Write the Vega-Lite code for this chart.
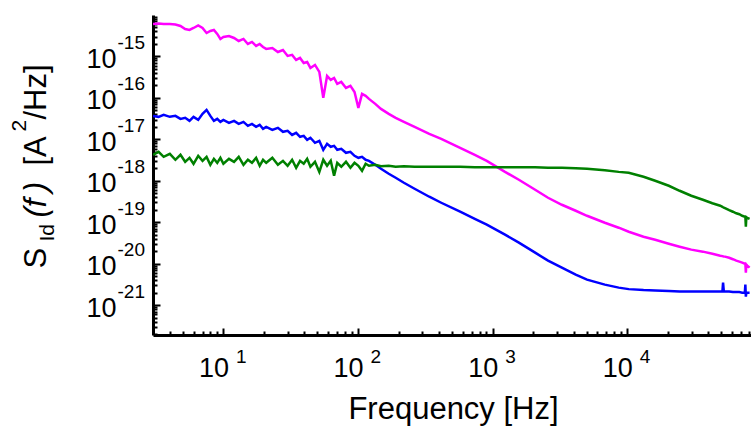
{
  "$schema": "https://vega.github.io/schema/vega-lite/v6.json",
  "width": 598,
  "height": 320,
  "autosize": {"type": "none"},
  "padding": {"left": 153, "top": 15, "right": 0, "bottom": 94},
  "background": "white",
  "config": {
    "view": {"stroke": null},
    "axis": {"labelFont": "Liberation Sans", "titleFont": "Liberation Sans", "labelColor": "black", "titleColor": "black", "grid": false, "labelOverlap": false, "labelFlush": false, "labelBound": false, "titleFontWeight": "normal", "domainColor": "black", "tickColor": "black"}
  },
  "data": {"values": [
    {"f":3,"magenta":6.07e-15,"blue":3.68e-17,"green":4.23e-18},
    {"f":3.3,"magenta":6.24e-15,"blue":3.49e-17,"green":5.00e-18},
    {"f":3.6,"magenta":6.07e-15,"blue":3.89e-17,"green":3.78e-18},
    {"f":4,"magenta":6.07e-15,"blue":3.49e-17,"green":4.47e-18},
    {"f":4.4,"magenta":5.90e-15,"blue":3.68e-17,"green":3.21e-18},
    {"f":4.8,"magenta":5.43e-15,"blue":3.12e-17,"green":4.23e-18},
    {"f":5.2,"magenta":4.60e-15,"blue":3.30e-17,"green":2.87e-18},
    {"f":5.6,"magenta":4.35e-15,"blue":2.79e-17,"green":3.58e-18},
    {"f":6,"magenta":4.86e-15,"blue":3.49e-17,"green":2.57e-18},
    {"f":6.5,"magenta":5.58e-15,"blue":2.95e-17,"green":4.01e-18},
    {"f":7,"magenta":4.86e-15,"blue":4.12e-17,"green":3.03e-18},
    {"f":7.5,"magenta":3.68e-15,"blue":5.14e-17,"green":3.78e-18},
    {"f":8,"magenta":4.12e-15,"blue":3.68e-17,"green":2.43e-18},
    {"f":8.5,"magenta":4.35e-15,"blue":2.79e-17,"green":3.39e-18},
    {"f":9,"magenta":3.49e-15,"blue":3.12e-17,"green":2.71e-18},
    {"f":9.5,"magenta":2.64e-15,"blue":2.64e-17,"green":3.58e-18},
    {"f":10,"magenta":2.95e-15,"blue":2.95e-17,"green":2.57e-18},
    {"f":11,"magenta":3.12e-15,"blue":2.50e-17,"green":3.39e-18},
    {"f":12,"magenta":2.79e-15,"blue":2.79e-17,"green":2.87e-18},
    {"f":13,"magenta":2.36e-15,"blue":2.36e-17,"green":3.78e-18},
    {"f":14.1,"magenta":2.64e-15,"blue":2.64e-17,"green":2.43e-18},
    {"f":15.2,"magenta":2.00e-15,"blue":2.12e-17,"green":3.21e-18},
    {"f":16.3,"magenta":2.24e-15,"blue":2.36e-17,"green":2.71e-18},
    {"f":17.5,"magenta":1.79e-15,"blue":2.00e-17,"green":3.58e-18},
    {"f":18.6,"magenta":2.00e-15,"blue":2.24e-17,"green":2.30e-18},
    {"f":19.7,"magenta":1.69e-15,"blue":1.79e-17,"green":3.21e-18},
    {"f":20.8,"magenta":1.52e-15,"blue":2.00e-17,"green":2.71e-18},
    {"f":23.1,"magenta":1.60e-15,"blue":1.69e-17,"green":3.58e-18},
    {"f":25.4,"magenta":1.28e-15,"blue":1.89e-17,"green":2.43e-18},
    {"f":27.7,"magenta":1.43e-15,"blue":1.52e-17,"green":3.03e-18},
    {"f":30,"magenta":1.03e-15,"blue":1.60e-17,"green":2.30e-18},
    {"f":32.4,"magenta":1.09e-15,"blue":1.28e-17,"green":3.21e-18},
    {"f":34.7,"magenta":8.24e-16,"blue":1.43e-17,"green":2.06e-18},
    {"f":37.1,"magenta":9.20e-16,"blue":1.15e-17,"green":3.03e-18},
    {"f":39.5,"magenta":6.97e-16,"blue":1.21e-17,"green":2.57e-18},
    {"f":41.9,"magenta":7.37e-16,"blue":9.73e-18,"green":3.39e-18},
    {"f":44.3,"magenta":5.28e-16,"blue":1.09e-17,"green":2.18e-18},
    {"f":47.9,"magenta":6.24e-16,"blue":8.24e-18,"green":2.87e-18},
    {"f":51.6,"magenta":4.23e-16,"blue":9.20e-18,"green":1.64e-18},
    {"f":55.2,"magenta":1.00e-16,"blue":5.58e-18,"green":3.21e-18},
    {"f":58.9,"magenta":3.39e-16,"blue":7.79e-18,"green":2.30e-18},
    {"f":62.7,"magenta":2.71e-16,"blue":6.60e-18,"green":3.03e-18},
    {"f":66.4,"magenta":3.03e-16,"blue":6.97e-18,"green":1.32e-18},
    {"f":70.1,"magenta":2.18e-16,"blue":5.58e-18,"green":2.71e-18},
    {"f":75.1,"magenta":2.43e-16,"blue":5.90e-18,"green":2.18e-18},
    {"f":81.4,"magenta":1.74e-16,"blue":4.73e-18,"green":2.87e-18},
    {"f":87.8,"magenta":1.95e-16,"blue":5.00e-18,"green":2.06e-18},
    {"f":94.2,"magenta":1.39e-16,"blue":4.01e-18,"green":2.71e-18},
    {"f":100.6,"magenta":5.74e-17,"blue":3.58e-18,"green":2.30e-18},
    {"f":107.1,"magenta":1.25e-16,"blue":3.78e-18,"green":1.74e-18},
    {"f":113.9,"magenta":1.12e-16,"blue":3.21e-18,"green":2.57e-18},
    {"f":120.6,"magenta":9.46e-17,"blue":3.03e-18,"green":2.30e-18},
    {"f":134.3,"magenta":7.17e-17,"blue":2.43e-18,"green":2.43e-18},
    {"f":148.1,"magenta":5.43e-17,"blue":1.95e-18,"green":2.24e-18},
    {"f":169.1,"magenta":4.12e-17,"blue":1.48e-18,"green":2.30e-18},
    {"f":190.4,"magenta":3.30e-17,"blue":1.18e-18,"green":2.18e-18},
    {"f":219.2,"magenta":2.64e-17,"blue":8.95e-19,"green":2.24e-18},
    {"f":263.2,"magenta":2.00e-17,"blue":6.41e-19,"green":2.18e-18},
    {"f":338.3,"magenta":1.36e-17,"blue":4.12e-19,"green":2.18e-18},
    {"f":415.1,"magenta":1.03e-17,"blue":2.95e-19,"green":2.18e-18},
    {"f":573.4,"magenta":6.24e-18,"blue":1.79e-19,"green":2.18e-18},
    {"f":736.9,"magenta":4.23e-18,"blue":1.21e-19,"green":2.12e-18},
    {"f":904.4,"magenta":3.03e-18,"blue":8.71e-20,"green":2.12e-18},
    {"f":1236,"magenta":1.64e-18,"blue":5.00e-20,"green":2.12e-18},
    {"f":1566,"magenta":1.06e-18,"blue":3.21e-20,"green":2.12e-18},
    {"f":2069,"magenta":6.07e-19,"blue":1.84e-20,"green":2.12e-18},
    {"f":2579,"magenta":3.89e-19,"blue":1.18e-20,"green":2.06e-18},
    {"f":3267,"magenta":2.64e-19,"blue":8.01e-21,"green":2.06e-18},
    {"f":4140,"magenta":1.89e-19,"blue":5.43e-21,"green":2.00e-18},
    {"f":5023,"magenta":1.43e-19,"blue":4.12e-21,"green":1.95e-18},
    {"f":6815,"magenta":9.73e-20,"blue":3.12e-21,"green":1.79e-18},
    {"f":8639,"magenta":7.37e-20,"blue":2.64e-21,"green":1.64e-18},
    {"f":10254,"magenta":5.90e-20,"blue":2.43e-21,"green":1.56e-18},
    {"f":13206,"magenta":4.47e-20,"blue":2.30e-21,"green":1.25e-18},
    {"f":16120,"magenta":3.78e-20,"blue":2.24e-21,"green":1.00e-18},
    {"f":20344,"magenta":3.03e-20,"blue":2.18e-21,"green":7.58e-19},
    {"f":24491,"magenta":2.57e-20,"blue":2.12e-21,"green":5.74e-19},
    {"f":29880,"magenta":2.18e-20,"blue":2.12e-21,"green":4.35e-19},
    {"f":36462,"magenta":1.95e-20,"blue":2.12e-21,"green":3.49e-19},
    {"f":42879,"magenta":1.74e-20,"blue":2.12e-21,"green":2.87e-19},
    {"f":49028,"magenta":1.56e-20,"blue":2.12e-21,"green":2.50e-19},
    {"f":50901,"magenta":1.52e-20,"blue":2.12e-21,"green":2.36e-19},
    {"f":51479,"magenta":1.50e-20,"blue":3.49e-21,"green":2.30e-19},
    {"f":52156,"magenta":1.49e-20,"blue":2.12e-21,"green":2.24e-19},
    {"f":53188,"magenta":1.48e-20,"blue":2.12e-21,"green":2.18e-19},
    {"f":57114,"magenta":1.39e-20,"blue":2.12e-21,"green":1.95e-19},
    {"f":60890,"magenta":1.28e-20,"blue":2.06e-21,"green":1.79e-19},
    {"f":64510,"magenta":1.18e-20,"blue":2.06e-21,"green":1.64e-19},
    {"f":68010,"magenta":1.12e-20,"blue":2.06e-21,"green":1.56e-19},
    {"f":71403,"magenta":1.06e-20,"blue":2.00e-21,"green":1.43e-19},
    {"f":74704,"magenta":1.00e-20,"blue":2.00e-21,"green":1.36e-19},
    {"f":75360,"magenta":1.00e-20,"blue":3.12e-21,"green":1.36e-19},
    {"f":76018,"magenta":6.07e-21,"blue":1.60e-21,"green":7.79e-20},
    {"f":76657,"magenta":9.46e-21,"blue":2.00e-21,"green":1.32e-19},
    {"f":77910,"magenta":8.95e-21,"blue":2.00e-21,"green":1.28e-19},
    {"f":81016,"magenta":8.01e-21,"blue":2.00e-21,"green":1.21e-19}
  ]},
  "transform": [{"fold": ["magenta", "blue", "green"], "as": ["series", "S"]}],
  "resolve": {"axis": {"x": "independent", "y": "independent"}},
  "layer": [
    {
      "mark": {"type": "line", "strokeWidth": 2.5, "clip": true},
      "encoding": {
        "x": {"field": "f", "type": "quantitative", "scale": {"type": "log", "domain": [3, 83000], "nice": false},
          "axis": {"orient": "bottom", "values": [10, 100, 1000, 10000], "labels": false, "domain": true, "domainWidth": 3, "ticks": true, "tickWidth": 2, "tickSize": -7, "title": null}},
        "y": {"field": "S", "type": "quantitative", "scale": {"type": "log", "domain": [1.9e-22, 1e-14], "nice": false},
          "axis": {"orient": "left", "values": [1e-21, 1e-20, 1e-19, 1e-18, 1e-17, 1e-16, 1e-15], "labels": false, "domain": true, "domainWidth": 3, "ticks": true, "tickWidth": 2, "tickSize": -7, "title": null}},
        "color": {"field": "series", "type": "nominal", "scale": {"domain": ["magenta", "blue", "green"], "range": ["#ff00ff", "#0000ff", "#008000"]}, "legend": null}
      }
    },
    {
      "transform": [{"filter": "datum.f == 1566 && datum.series == 'green'"}],
      "mark": {"type": "point", "opacity": 0},
      "encoding": {
        "x": {"field": "f", "type": "quantitative", "scale": {"type": "log", "domain": [3, 83000], "nice": false},
          "axis": {"orient": "bottom", "values": [4,5,6,7,8,9,20,30,40,50,60,70,80,90,200,300,400,500,600,700,800,900,2000,3000,4000,5000,6000,7000,8000,9000,20000,30000,40000,50000,60000,70000,80000], "labels": false, "domain": false, "ticks": true, "tickWidth": 2, "tickSize": -4, "title": null}},
        "y": {"field": "S", "type": "quantitative", "scale": {"type": "log", "domain": [1.9e-22, 1e-14], "nice": false},
          "axis": {"orient": "left", "values": [2e-22,3e-22,4e-22,5e-22,6e-22,7e-22,8e-22,9e-22,2e-21,3e-21,4e-21,5e-21,6e-21,7e-21,8e-21,9e-21,2e-20,3e-20,4e-20,5e-20,6e-20,7e-20,8e-20,9e-20,2e-19,3e-19,4e-19,5e-19,6e-19,7e-19,8e-19,9e-19,2e-18,3e-18,4e-18,5e-18,6e-18,7e-18,8e-18,9e-18,2e-17,3e-17,4e-17,5e-17,6e-17,7e-17,8e-17,9e-17,2e-16,3e-16,4e-16,5e-16,6e-16,7e-16,8e-16,9e-16,2e-15,3e-15,4e-15,5e-15,6e-15,7e-15,8e-15,9e-15], "labels": false, "domain": false, "ticks": true, "tickWidth": 2, "tickSize": -4, "title": null}}
      }
    },
    {
      "transform": [{"filter": "datum.f == 1566 && datum.series == 'green'"}],
      "mark": {"type": "point", "opacity": 0},
      "encoding": {
        "x": {"field": "f", "type": "quantitative", "scale": {"type": "log", "domain": [3, 83000], "nice": false},
          "axis": {"orient": "bottom", "values": [10, 100, 1000, 10000], "labelExpr": "'10'", "labelFontSize": 27, "labelAlign": "center", "labelBaseline": "top", "labelPadding": 20, "labelOffset": -10, "domain": false, "ticks": false,
            "title": "Frequency [Hz]", "titleFontSize": 31, "titleX": 300, "titleY": 83, "titleAlign": "center", "titleBaseline": "alphabetic", "titleAngle": 0}},
        "y": {"field": "S", "type": "quantitative", "scale": {"type": "log", "domain": [1.9e-22, 1e-14], "nice": false},
          "axis": {"orient": "left", "values": [1e-21, 1e-20, 1e-19, 1e-18, 1e-17, 1e-16, 1e-15], "labelExpr": "'10'", "labelFontSize": 27, "labelAlign": "right", "labelBaseline": "middle", "labelPadding": 37, "labelOffset": 3, "domain": false, "ticks": false,
            "title": "S", "titleFontSize": 31, "titleX": -108, "titleY": 253, "titleAngle": 270, "titleAlign": "left", "titleBaseline": "alphabetic"}}
      }
    },
    {
      "transform": [{"filter": "datum.f == 1566 && datum.series == 'green'"}],
      "mark": {"type": "point", "opacity": 0},
      "encoding": {
        "x": {"field": "f", "type": "quantitative", "scale": {"type": "log", "domain": [3, 83000], "nice": false},
          "axis": {"orient": "bottom", "values": [10, 100, 1000, 10000], "labelExpr": "'' + round(log(datum.value) / LN10)", "labelFontSize": 19, "labelAlign": "left", "labelBaseline": "top", "labelPadding": 12, "labelOffset": 12, "domain": false, "ticks": false, "title": null}},
        "y": {"field": "S", "type": "quantitative", "scale": {"type": "log", "domain": [1.9e-22, 1e-14], "nice": false},
          "axis": {"orient": "left", "values": [1e-21, 1e-20, 1e-19, 1e-18, 1e-17, 1e-16, 1e-15], "labelExpr": "'-' + round(-log(datum.value) / LN10)", "labelFontSize": 19, "labelAlign": "left", "labelBaseline": "middle", "labelPadding": 36, "labelOffset": -14, "domain": false, "ticks": false,
            "title": "Id", "titleFontSize": 21, "titleX": -100, "titleY": 226, "titleAngle": 270, "titleAlign": "left", "titleBaseline": "alphabetic"}}
      }
    },
    {
      "transform": [{"filter": "datum.f == 1566 && datum.series == 'green'"}],
      "mark": {"type": "point", "opacity": 0},
      "encoding": {
        "x": {"field": "f", "type": "quantitative", "scale": {"type": "log", "domain": [3, 83000], "nice": false}, "axis": null},
        "y": {"field": "S", "type": "quantitative", "scale": {"type": "log", "domain": [1.9e-22, 1e-14], "nice": false},
          "axis": {"orient": "left", "labels": false, "domain": false, "ticks": false,
            "title": "(f\u2009)", "titleFontSize": 31, "titleFontStyle": "italic", "titleX": -108, "titleY": 202, "titleAngle": 270, "titleAlign": "left", "titleBaseline": "alphabetic"}}
      }
    },
    {
      "transform": [{"filter": "datum.f == 1566 && datum.series == 'green'"}],
      "mark": {"type": "point", "opacity": 0},
      "encoding": {
        "x": {"field": "f", "type": "quantitative", "scale": {"type": "log", "domain": [3, 83000], "nice": false}, "axis": null},
        "y": {"field": "S", "type": "quantitative", "scale": {"type": "log", "domain": [1.9e-22, 1e-14], "nice": false},
          "axis": {"orient": "left", "labels": false, "domain": false, "ticks": false,
            "title": "[A", "titleFontSize": 31, "titleX": -108, "titleY": 150, "titleAngle": 270, "titleAlign": "left", "titleBaseline": "alphabetic"}}
      }
    },
    {
      "transform": [{"filter": "datum.f == 1566 && datum.series == 'green'"}],
      "mark": {"type": "point", "opacity": 0},
      "encoding": {
        "x": {"field": "f", "type": "quantitative", "scale": {"type": "log", "domain": [3, 83000], "nice": false}, "axis": null},
        "y": {"field": "S", "type": "quantitative", "scale": {"type": "log", "domain": [1.9e-22, 1e-14], "nice": false},
          "axis": {"orient": "left", "labels": false, "domain": false, "ticks": false,
            "title": "2", "titleFontSize": 21, "titleX": -128, "titleY": 116, "titleAngle": 270, "titleAlign": "left", "titleBaseline": "alphabetic"}}
      }
    },
    {
      "transform": [{"filter": "datum.f == 1566 && datum.series == 'green'"}],
      "mark": {"type": "point", "opacity": 0},
      "encoding": {
        "x": {"field": "f", "type": "quantitative", "scale": {"type": "log", "domain": [3, 83000], "nice": false}, "axis": null},
        "y": {"field": "S", "type": "quantitative", "scale": {"type": "log", "domain": [1.9e-22, 1e-14], "nice": false},
          "axis": {"orient": "left", "labels": false, "domain": false, "ticks": false,
            "title": "/Hz]", "titleFontSize": 31, "titleX": -108, "titleY": 104, "titleAngle": 270, "titleAlign": "left", "titleBaseline": "alphabetic"}}
      }
    }
  ]
}
